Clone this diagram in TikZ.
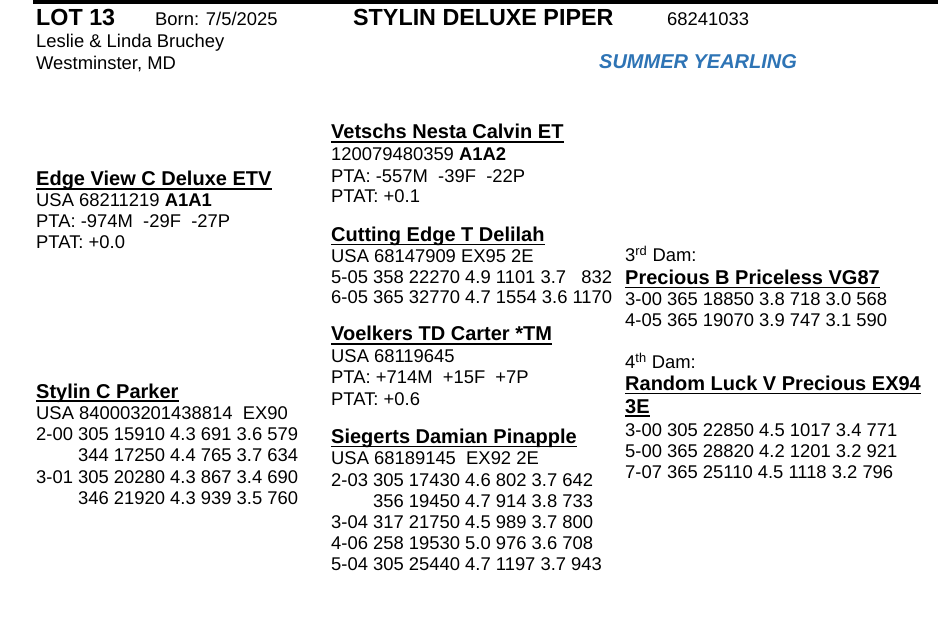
\documentclass[tikz,border=0pt]{standalone}
\usepackage{fontspec}
\setmainfont{Liberation Sans}
\usepackage{tikz}
\definecolor{classblue}{HTML}{2E74B5}

\tikzset{
	txt/.style={anchor=base west, inner sep=0pt, font=\fontsize{18.4}{22}\selectfont},
	hd/.style={txt, font=\fontsize{20}{22}\selectfont\bfseries},
	big/.style={txt, font=\fontsize{23.3}{26}\selectfont\bfseries},
	cls/.style={txt, text=classblue, font=\fontsize{20}{22}\selectfont\bfseries\itshape},
	uline/.style={line width=1.8pt}
}

\begin{document}
\begin{tikzpicture}[x=1pt, y=-1pt]
	\useasboundingbox (0,0) rectangle (940,620);
	\draw[draw=none, fill=black] (33,0) rectangle (938,4);
	% header
	\node[big] (lot) at (36,26) {LOT 13};
	\node[txt] (born) at (155,26) {Born: 7/5/2025};
	\node[big] (calf) at (353,26) {STYLIN DELUXE PIPER};
	\node[txt] (reg) at (667,26) {68241033};
	\node[txt] (owner) at (36,48) {Leslie \& Linda Bruchey};
	\node[txt] (town) at (36,70) {Westminster, MD};
	\node[cls] (class) at (599,69) {SUMMER YEARLING};
	% sire and dam
	\node[hd] (ev) at (36,186) {Edge View C Deluxe ETV};
	\node[txt] (ev1) at (36,206.5) {USA 68211219 \textbf{A1A1}};
	\node[txt] (ev2) at (36,228) {PTA: -974M~ -29F~ -27P};
	\node[txt] (ev3) at (36,249) {PTAT: +0.0};
	\node[hd] (sp) at (36,398) {Stylin C Parker};
	\node[txt] (sp1) at (36,419) {USA 840003201438814~ EX90};
	\node[txt] (sp2) at (36,440) {2-00 305 15910 4.3 691 3.6 579};
	\node[txt] (sp3) at (36,461.5) {\hphantom{2-00 }344 17250 4.4 765 3.7 634};
	\node[txt] (sp4) at (36,483) {3-01 305 20280 4.3 867 3.4 690};
	\node[txt] (sp5) at (36,504) {\hphantom{3-01 }346 21920 4.3 939 3.5 760};
	% grandparents
	\node[hd] (vn) at (331,139) {Vetschs Nesta Calvin ET};
	\node[txt] (vn1) at (331,161) {120079480359 \textbf{A1A2}};
	\node[txt] (vn2) at (331,182.5) {PTA: -557M~ -39F~ -22P};
	\node[txt] (vn3) at (331,203) {PTAT: +0.1};
	\node[hd] (ce) at (331,241.5) {Cutting Edge T Delilah};
	\node[txt] (ce1) at (331,263) {USA 68147909 EX95 2E};
	\node[txt] (ce2) at (331,283.5) {5-05 358 22270 4.9 1101 3.7 \hphantom{1}832};
	\node[txt] (ce3) at (331,304) {6-05 365 32770 4.7 1554 3.6 1170};
	\node[hd] (vt) at (331,341) {Voelkers TD Carter *TM};
	\node[txt] (vt1) at (331,362.5) {USA 68119645};
	\node[txt] (vt2) at (331,384) {PTA: +714M~ +15F~ +7P};
	\node[txt] (vt3) at (331,405) {PTAT: +0.6};
	\node[hd] (sd) at (331,443.5) {Siegerts Damian Pinapple};
	\node[txt] (sd1) at (331,464.5) {USA 68189145~ EX92 2E};
	\node[txt] (sd2) at (331,486) {2-03 305 17430 4.6 802 3.7 642};
	\node[txt] (sd3) at (331,507) {\hphantom{2-03 }356 19450 4.7 914 3.8 733};
	\node[txt] (sd4) at (331,528) {3-04 317 21750 4.5 989 3.7 800};
	\node[txt] (sd5) at (331,549) {4-06 258 19530 5.0 976 3.6 708};
	\node[txt] (sd6) at (331,570) {5-04 305 25440 4.7 1197 3.7 943};
	% dams
	\node[txt] (d3) at (625,262) {3\textsuperscript{rd} Dam:};
	\node[hd] (pb) at (625,284.5) {Precious B Priceless VG87};
	\node[txt] (pb1) at (625,305.5) {3-00 365 18850 3.8 718 3.0 568};
	\node[txt] (pb2) at (625,326.5) {4-05 365 19070 3.9 747 3.1 590};
	\node[txt] (d4) at (625,368.5) {4\textsuperscript{th} Dam:};
	\node[hd] (rl) at (625,390.5) {Random Luck V Precious EX94};
	\node[hd] (rlb) at (625,413) {3E};
	\node[txt] (rl1) at (625,436) {3-00 305 22850 4.5 1017 3.4 771};
	\node[txt] (rl2) at (625,457) {5-00 365 28820 4.2 1201 3.2 921};
	\node[txt] (rl3) at (625,478) {7-07 365 25110 4.5 1118 3.2 796};
	% underlines
	\foreach \n in {ev,sp,vn,ce,vt,sd,pb,rl,rlb} {
		\draw[uline] ([yshift=-3pt]\n.base west) -- ([yshift=-3pt]\n.base east);
	}
\end{tikzpicture}
\end{document}
